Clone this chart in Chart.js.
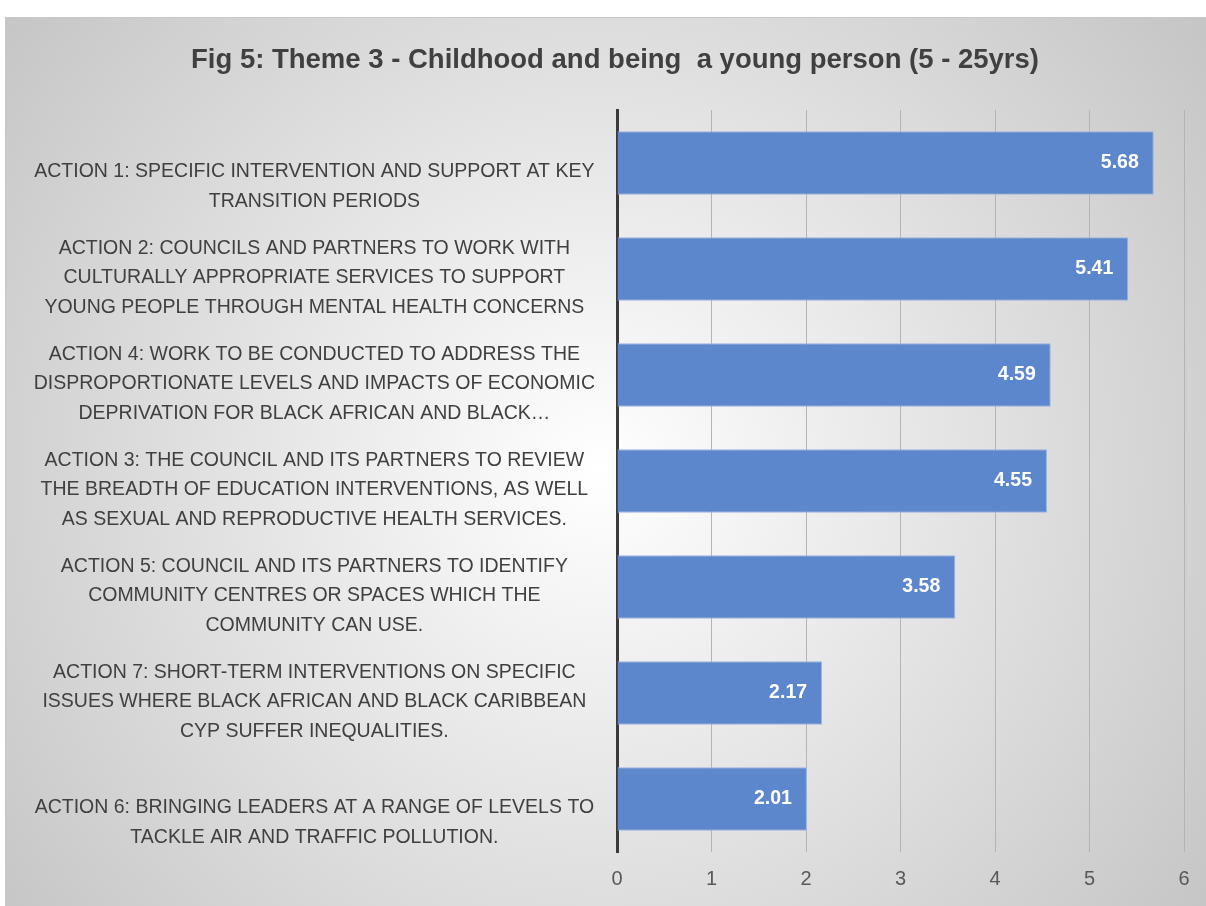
<!DOCTYPE html>
<html>
<head>
<meta charset="utf-8">
<script src="https://cdn.jsdelivr.net/npm/chart.js@4.4.0/dist/chart.umd.min.js"></script>
<style>
  html, body { margin: 0; padding: 0; background: #fff; }
  #wrap { width: 1206px; height: 906px; }
</style>
</head>
<body>
<div id="wrap"><canvas id="actionsChart" width="1206" height="906"></canvas></div>
<script>
// Chart data
const chartTitle = "Fig 5: Theme 3 - Childhood and being  a young person (5 - 25yrs)";

const categories = [
    ["ACTION 1: SPECIFIC INTERVENTION AND SUPPORT AT KEY", "TRANSITION PERIODS"],
    ["ACTION 2: COUNCILS AND PARTNERS TO WORK WITH", "CULTURALLY APPROPRIATE SERVICES TO SUPPORT", "YOUNG PEOPLE THROUGH MENTAL HEALTH CONCERNS"],
    ["ACTION 4: WORK TO BE CONDUCTED TO ADDRESS THE", "DISPROPORTIONATE LEVELS AND IMPACTS OF ECONOMIC", "DEPRIVATION FOR BLACK AFRICAN AND BLACK\u2026"],
    ["ACTION 3: THE COUNCIL AND ITS PARTNERS TO REVIEW", "THE BREADTH OF EDUCATION INTERVENTIONS, AS WELL", "AS SEXUAL AND REPRODUCTIVE HEALTH SERVICES."],
    ["ACTION 5: COUNCIL AND ITS PARTNERS TO IDENTIFY", "COMMUNITY CENTRES OR SPACES WHICH THE", "COMMUNITY CAN USE."],
    ["ACTION 7: SHORT-TERM INTERVENTIONS ON SPECIFIC", "ISSUES WHERE BLACK AFRICAN AND BLACK CARIBBEAN", "CYP SUFFER INEQUALITIES."],
    ["ACTION 6: BRINGING LEADERS AT A RANGE OF LEVELS TO", "TACKLE AIR AND TRAFFIC POLLUTION."],
];

const scores = [5.68, 5.41, 4.59, 4.55, 3.58, 2.17, 2.01];

const xMin = 0;
const xMax = 6;
const xStep = 1;

const FONT = "'Liberation Sans', Arial, sans-serif";

// Excel-style radial gradient frame behind the chart
const frameBackground = {
    id: "frameBackground",
    beforeDraw(chart) {
        const { ctx, width, height } = chart;
        // let the long category labels use the whole left side (no clipping)
        chart.scales.y.left = 5;
        ctx.save();
        ctx.fillStyle = "#ffffff";
        ctx.fillRect(0, 0, width, height);
        const g = ctx.createRadialGradient(600, 470, 0, 600, 470, 820);
        g.addColorStop(0, "#ffffff");
        g.addColorStop(1, "#c0c0c0");
        ctx.fillStyle = g;
        ctx.fillRect(5.5, 17.5, width, height);
        ctx.strokeStyle = "#c8c8c8";
        ctx.lineWidth = 1;
        ctx.strokeRect(5.5, 17.5, width, height);
        ctx.restore();
    },
};

// White value labels at the inner end of each bar
const barValues = {
    id: "barValues",
    afterDatasetsDraw(chart) {
        const { ctx } = chart;
        const meta = chart.getDatasetMeta(0);
        ctx.save();
        ctx.fillStyle = "#ffffff";
        ctx.font = "bold 19.5px " + FONT;
        ctx.textAlign = "right";
        ctx.textBaseline = "middle";
        meta.data.forEach((bar, i) => {
            ctx.fillText(scores[i].toFixed(2), bar.x - 15, bar.y);
        });
        ctx.restore();
    },
};

const ctx = document.getElementById("actionsChart").getContext("2d");

new Chart(ctx, {
    type: "bar",
    data: {
        labels: categories,
        datasets: [
            {
                data: scores,
                backgroundColor: "#5d87cd",
                borderColor: "#9db3e0",
                borderWidth: 1,
                barPercentage: 0.6,
                categoryPercentage: 1,
            },
        ],
    },
    options: {
        indexAxis: "y",
        responsive: false,
        animation: false,
        // left padding is larger so the title centres where the original does
        layout: { padding: { top: 17, left: 46, right: 22, bottom: 0 } },
        plugins: {
            legend: { display: false },
            tooltip: { enabled: false },
            title: {
                display: true,
                text: chartTitle,
                color: "#404040",
                font: { family: FONT, size: 27.5, weight: "bold" },
                padding: { top: 27, bottom: 33 },
            },
        },
        scales: {
            x: {
                min: xMin,
                max: xMax,
                ticks: {
                    stepSize: xStep,
                    color: "#595959",
                    font: { family: FONT, size: 20, lineHeight: 1.1 },
                    padding: 16,
                },
                grid: { color: "#b4b4b4", lineWidth: 1, drawTicks: false },
                border: { display: false },
            },
            y: {
                afterFit(scale) {
                    scale.width = 571;
                    // labels sit inside their bands, no extra room needed
                    scale.paddingTop = 0;
                    scale.paddingBottom = 0;
                },
                ticks: {
                    color: "#404040",
                    crossAlign: "center",
                    padding: 22,
                    labelOffset: 9,
                    font: { family: FONT, size: 19.5, lineHeight: 1.51 },
                    callback(value, index) {
                        const lab = categories[index];
                        return lab.length === 2 ? [""].concat(lab) : lab;
                    },
                },
                grid: { display: false, drawTicks: false },
                border: { display: true, color: "#3a3a3a", width: 3 },
            },
        },
    },
    plugins: [frameBackground, barValues],
});
</script>
</body>
</html>
